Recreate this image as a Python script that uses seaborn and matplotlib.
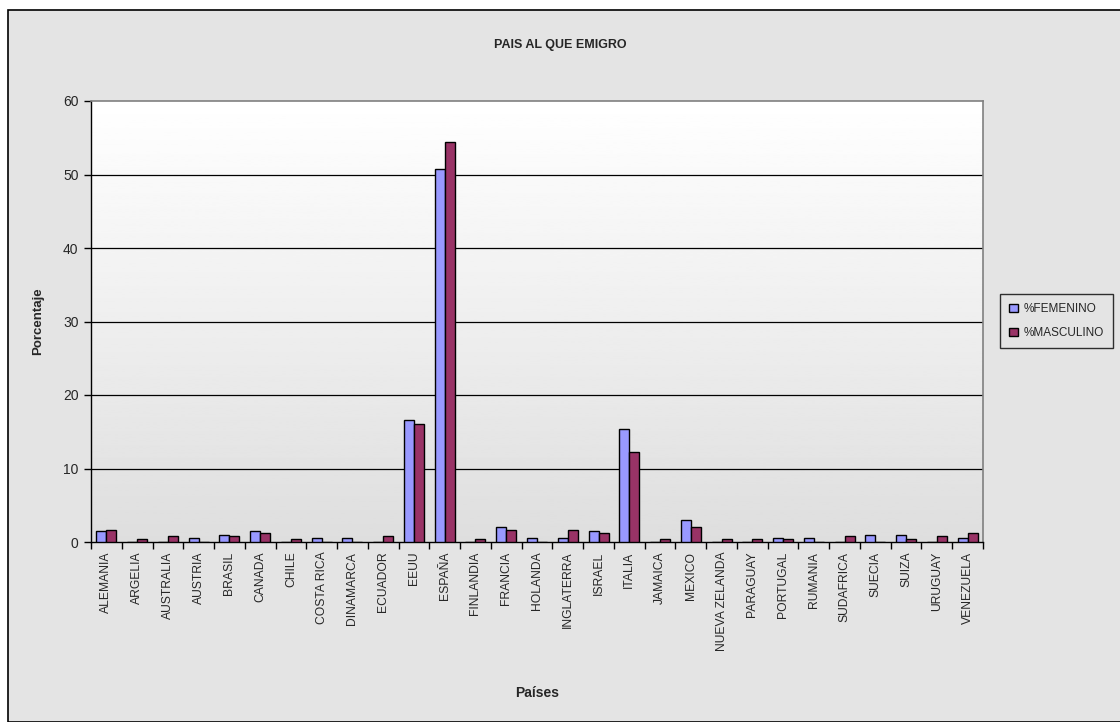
import numpy as np
import pandas as pd
import matplotlib
matplotlib.use("Agg")
import matplotlib.pyplot as plt
import seaborn as sns
from matplotlib.patches import Rectangle

paises = ["ALEMANIA", "ARGELIA", "AUSTRALIA", "AUSTRIA", "BRASIL", "CANADA", "CHILE",
          "COSTA RICA", "DINAMARCA", "ECUADOR", "EEUU", "ESPAÑA", "FINLANDIA", "FRANCIA",
          "HOLANDA", "INGLATERRA", "ISRAEL", "ITALIA", "JAMAICA", "MEXICO", "NUEVA ZELANDA",
          "PARAGUAY", "PORTUGAL", "RUMANIA", "SUDAFRICA", "SUECIA", "SUIZA", "URUGUAY",
          "VENEZUELA"]
femenino = [1.5, 0.0, 0.0, 0.6, 1.0, 1.5, 0.0, 0.6, 0.6, 0.0, 16.6, 50.7, 0.0, 2.1,
            0.6, 0.6, 1.5, 15.4, 0.0, 3.0, 0.0, 0.0, 0.6, 0.6, 0.0, 1.0, 1.0, 0.0, 0.6]
masculino = [1.7, 0.4, 0.8, 0.0, 0.8, 1.2, 0.4, 0.0, 0.0, 0.8, 16.0, 54.4, 0.4, 1.6,
             0.0, 1.7, 1.2, 12.3, 0.4, 2.1, 0.4, 0.4, 0.4, 0.0, 0.8, 0.0, 0.4, 0.8, 1.2]
series = ["%FEMENINO", "%MASCULINO"]
colores = ["#9999FF", "#993366"]
yticks = [0, 10, 20, 30, 40, 50, 60]

df = pd.DataFrame({
    "Pais": paises * 2,
    "Serie": [series[0]] * len(paises) + [series[1]] * len(paises),
    "Valor": femenino + masculino,
})

sns.set_theme(style="white")
plt.rcParams["font.family"] = ["Liberation Sans", "DejaVu Sans"]

W, H = 1120, 722
fig = plt.figure(figsize=(W / 100, H / 100), dpi=100)
fig.patch.set_facecolor("white")
# chart area background and frame
fig.patches.append(Rectangle((8 / W, 0), 1.0, 1 - 10 / H, transform=fig.transFigure,
                             facecolor="#e4e4e4", edgecolor="black", linewidth=1.2, zorder=-5))

ax = fig.add_axes([91 / W, 1 - 542 / H, (983 - 91) / W, (542 - 101) / H])
ax.set_facecolor("none")

# gradient plot area
grad = np.linspace(0.87, 1.0, 256).reshape(-1, 1)
ax.imshow(grad, extent=[-0.5, len(paises) - 0.5, 0, 60], aspect="auto", cmap="gray",
          vmin=0, vmax=1, origin="lower", zorder=0)

sns.barplot(data=df, x="Pais", y="Valor", hue="Serie", palette=colores, width=0.65,
            edgecolor="black", linewidth=1.0, ax=ax, zorder=3, legend=True,
            saturation=1)

for y in yticks[1:-1]:
    ax.axhline(y, color="black", linewidth=0.9, zorder=1)

ax.set_xlim(-0.5, len(paises) - 0.5)
ax.set_ylim(0, 60)
ax.set_yticks(yticks)
ax.set_yticklabels([str(v) for v in yticks], fontsize=10)
ax.set_xticks(range(len(paises)))
ax.set_xticklabels(paises, rotation=90, fontsize=8.7)
ax.tick_params(axis="x", which="major", length=0, pad=7)
ax.set_xticks(np.arange(-0.5, len(paises), 1.0), minor=True)
ax.tick_params(axis="x", which="minor", length=5, direction="out", width=1, color="black",
               bottom=True)
ax.tick_params(axis="y", length=5, direction="out", width=1, color="black", left=True, pad=4)

for s in ["top", "right"]:
    ax.spines[s].set_color("#808080")
    ax.spines[s].set_linewidth(1.2)
for s in ["left", "bottom"]:
    ax.spines[s].set_color("black")
    ax.spines[s].set_linewidth(1.0)

ax.set_xlabel("Países", fontsize=10, fontweight="bold")
ax.set_ylabel("Porcentaje", fontsize=9.5, fontweight="bold")
ax.xaxis.set_label_coords(0.5, -(693 - 542) / (542 - 101))
ax.yaxis.set_label_coords(-(91 - 38) / (983 - 91), 0.5)
ax.xaxis.label.set_va("center")
ax.yaxis.label.set_va("center")
fig.text(560 / W, 1 - 45 / H, "PAIS AL QUE EMIGRO", ha="center", va="center",
         fontsize=9, fontweight="bold")

handles, labels = ax.get_legend_handles_labels()
ax.legend_.remove()
leg = fig.legend(handles, labels, loc="center left", bbox_to_anchor=(1000 / W, 1 - 321 / H),
                 frameon=True, fontsize=8.5, handlelength=0.7, handleheight=0.7,
                 handletextpad=0.5, borderpad=0.8, labelspacing=1.0, fancybox=False,
                 borderaxespad=0)
leg.get_frame().set_edgecolor("black")
leg.get_frame().set_facecolor("#e4e4e4")
leg.get_frame().set_linewidth(1.0)

fig.savefig("out.png", dpi=100, facecolor=fig.get_facecolor())
